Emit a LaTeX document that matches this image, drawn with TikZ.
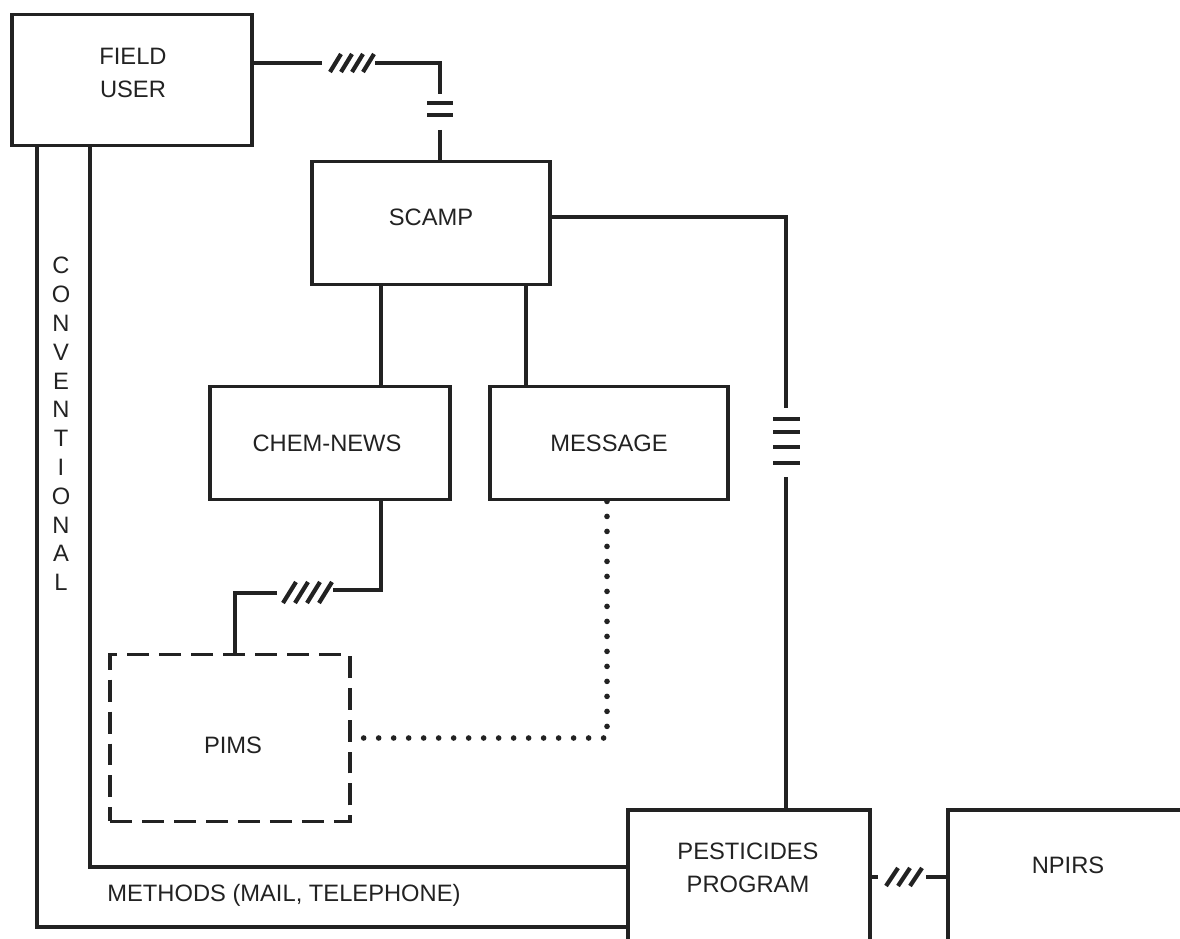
\documentclass[tikz,border=0pt]{standalone}
\usepackage{fontspec}
\setmainfont{Liberation Sans}
\usetikzlibrary{positioning}
\definecolor{inkgray}{HTML}{222222}

\begin{document}
\begin{tikzpicture}[
  x=0.02cm, y=-0.02cm,
  font=\fontsize{13.5}{18.5}\selectfont,
  unitbox/.style={draw=inkgray, line width=2.2pt, inner sep=0pt},
  planbox/.style={unitbox, dash pattern=on 0.44cm off 0.2cm},
  lbl/.style={text=inkgray, align=center, inner sep=0pt},
  link/.style={draw=inkgray, line width=1.8pt},
  slowlink/.style={draw=inkgray, line width=3.2pt, line cap=round, dash pattern=on 0pt off 0.3cm},
  tick/.style={draw=inkgray, line width=2.4pt}
]
\clip (0,0) rectangle (1180,939);

% boxes
\node[unitbox, minimum width=4.8cm, minimum height=2.62cm] (fielduser) at (132,80) {};
\node[unitbox, minimum width=4.76cm, minimum height=2.46cm] (scamp) at (431,223) {};
\node[unitbox, minimum width=4.8cm, minimum height=2.26cm] (chemnews) at (330,443) {};
\node[unitbox, minimum width=4.76cm, minimum height=2.26cm] (message) at (609,443) {};
\node[planbox, minimum width=4.8cm, minimum height=3.34cm] (pims) at (230,738) {};
\node[unitbox, minimum width=4.84cm, minimum height=3.0cm] (pesticides) at (749,885) {};
\node[unitbox, minimum width=4.96cm, minimum height=3.0cm] (npirs) at (1072,885) {};

\node[lbl] (fieldtxt) at (133,73) {FIELD\\USER};
\node[lbl] (scamptxt) at (431,217) {SCAMP};
\node[lbl] (chemtxt) at (327,443) {CHEM-NEWS};
\node[lbl] (msgtxt) at (609,443) {MESSAGE};
\node[lbl] (pimstxt) at (233,745) {PIMS};
\node[lbl] (pesttxt) at (748,868) {PESTICIDES\\PROGRAM};
\node[lbl] (npirstxt) at (1068,865) {NPIRS};
\node[lbl, font=\fontsize{13.5}{16.4}\selectfont] (convtxt) at (61,424)
  {C\\O\\N\\V\\E\\N\\T\\I\\O\\N\\A\\L};
\node[lbl, anchor=west] (methtxt) at (107,895) {METHODS (MAIL, TELEPHONE)};

% break points
\coordinate (fuA) at (322,63);
\coordinate (fuB) at (375,63);
\coordinate (fuC) at (440,94);
\coordinate (fuD) at (440,130);
\coordinate (scA) at (550,217);
\coordinate (scB) at (786,408);
\coordinate (scC) at (786,477);
\coordinate (chA) at (381,290);
\coordinate (msA) at (526,290);
\coordinate (cnA) at (381,590);
\coordinate (cnB) at (333,590);
\coordinate (cnC) at (277,593);
\coordinate (cnD) at (235,593);
\coordinate (dtA) at (607,490);
\coordinate (dtB) at (607,738);
\coordinate (npA) at (878,877);
\coordinate (npB) at (926,877);
\coordinate (cvA) at (37,927);
\coordinate (cvB) at (90,867);

% field user to scamp
\draw[link] (fielduser.east |- fuA) -- (fuA);
\draw[link] (fuB) -| (fuC);
\draw[link] (fuD) -- (fuD |- scamp.north);
\foreach \sx in {330,341,352,363}
  \draw[tick] (\sx,72) -- ++(11,-18);
\foreach \sy in {103,115}
  \draw[tick] (427,\sy) -- (453,\sy);

% scamp to pesticides program
\draw[link] (scamp.east |- scA) -| (scB);
\draw[link] (scC) -- (scC |- pesticides.north);
\foreach \sy in {419,432,447,463}
  \draw[tick] (773,\sy) -- (800,\sy);

% scamp to chem-news and message
\draw[link] (chA |- scamp.south) -- (chA |- chemnews.north);
\draw[link] (msA |- scamp.south) -- (msA |- message.north);

% chem-news to pims
\draw[link] (chA |- chemnews.south) -- (cnA) -- (cnB);
\draw[link] (cnC) -- (cnD) -- (cnD |- pims.north);
\foreach \sx in {283,295,307,319}
  \draw[tick] (\sx,603) -- ++(13,-21);

% message to pims
\draw[slowlink] (dtA |- message.south) -- (dtB) -- (pims.east |- dtB);

% pesticides program to npirs
\draw[link] (pesticides.east |- npA) -- (npA);
\draw[link] (npB) -- (npirs.west |- npB);
\foreach \sx in {886,898,910}
  \draw[tick] (\sx,886) -- ++(12,-18);

% conventional methods
\draw[link] (fielduser.south -| cvA) |- (pesticides.west |- cvA);
\draw[link] (fielduser.south -| cvB) |- (pesticides.west |- cvB);

\end{tikzpicture}
\end{document}
